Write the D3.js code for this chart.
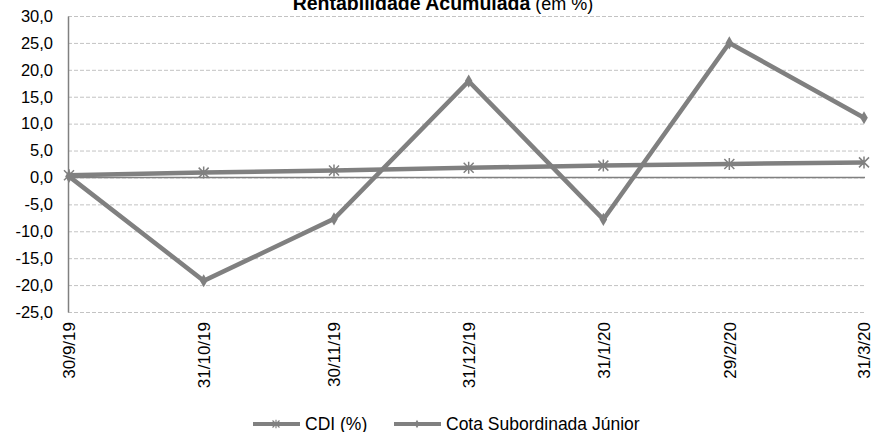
<!DOCTYPE html>
<html>
<head>
<meta charset="utf-8">
<script src="https://cdn.jsdelivr.net/npm/d3@7"></script>
<style>
  body { margin: 0; background: #fff; }
  svg { display: block; }
</style>
</head>
<body>
<div id="chart"></div>
<script>
var dates = ['30/9/19', '31/10/19', '30/11/19', '31/12/19', '31/1/20', '29/2/20', '31/3/20'];
var cdi = [0.4, 0.9, 1.3, 1.8, 2.2, 2.5, 2.8];
var cota = [0.2, -19.2, -7.7, 17.9, -7.8, 25.0, 11.1];
var yTicks = [-25, -20, -15, -10, -5, 0, 5, 10, 15, 20, 25, 30];
var seriesNames = ['CDI (%)', 'Cota Subordinada Júnior'];

var width = 872,
    height = 432;
var plotLeft = 68, plotRight = 865, plotTop = 16, plotBottom = 312;

var lineColor = '#808080',
    gridColor = '#c3c3c3',
    textColor = '#000';
var fontFamily = '"Liberation Sans", Arial, sans-serif';

var parse = d3.timeParse('%d/%m/%y');
var dateVals = dates.map(parse);

var x = d3.scaleTime()
  .domain(d3.extent(dateVals))
  .range([plotLeft + 1, plotRight - 1]);

var y = d3.scaleLinear()
  .domain([yTicks[0], yTicks[yTicks.length - 1]])
  .range([plotBottom, plotTop]);

function fmt(v) {
  return v.toFixed(1).replace('.', ',');
}

var svg = d3.select('#chart')
  .append('svg')
  .attr('width', width)
  .attr('height', height);

// title (partly cut off at the top)
var title = svg.append('text')
  .attr('x', 443)
  .attr('y', 10)
  .attr('text-anchor', 'middle')
  .attr('font-family', fontFamily)
  .attr('font-size', '18px')
  .attr('fill', textColor);
title.append('tspan').attr('font-weight', 'bold').attr('font-size', '19.5px').text('Rentabilidade Acumulada');
title.append('tspan').text(' (em %)');

// gridlines
var grid = svg.append('g')
  .attr('transform', 'translate(' + plotLeft + ',0)')
  .call(d3.axisLeft(y).tickValues(yTicks).tickSize(-(plotRight - plotLeft)).tickFormat(''));
grid.select('.domain').remove();
grid.selectAll('line')
  .attr('stroke', gridColor)
  .attr('stroke-width', 1)
  .attr('stroke-dasharray', '4,2');

// zero line
svg.append('line')
  .attr('x1', plotLeft)
  .attr('x2', plotRight)
  .attr('y1', y(0))
  .attr('y2', y(0))
  .attr('stroke', lineColor)
  .attr('stroke-width', 1.5);

// y axis
var yAxis = svg.append('g')
  .attr('transform', 'translate(' + plotLeft + ',0)')
  .call(d3.axisLeft(y).tickValues(yTicks).tickSize(0).tickPadding(15).tickFormat(fmt));
yAxis.select('.domain').attr('stroke', lineColor).attr('stroke-width', 1.5);
yAxis.selectAll('text')
  .attr('font-family', fontFamily)
  .attr('font-size', '16.5px')
  .attr('fill', textColor);

// x labels, rotated
var xAxis = svg.append('g')
  .attr('transform', 'translate(0,' + plotBottom + ')')
  .call(d3.axisBottom(x).tickValues(dateVals).tickSize(0).tickFormat(function(d, i) { return dates[i]; }));
xAxis.select('.domain').remove();
xAxis.selectAll('text')
  .attr('font-family', fontFamily)
  .attr('font-size', '17px')
  .attr('fill', textColor)
  .attr('text-anchor', 'end')
  .attr('transform', 'rotate(-90)')
  .attr('x', -10)
  .attr('y', 0)
  .attr('dy', '0.35em');

// lines
var line = d3.line()
  .x(function(d, i) { return x(dateVals[i]); })
  .y(function(d) { return y(d); });

function starPath(s) {
  return 'M' + (-s) + ',' + (-s) + 'L' + s + ',' + s +
         'M' + (-s) + ',' + s + 'L' + s + ',' + (-s) +
         'M0,' + (-s * 1.2) + 'L0,' + (s * 1.2);
}
var diamond = d3.symbol().type(d3.symbolDiamond).size(50);

svg.append('path')
  .datum(cdi)
  .attr('d', line)
  .attr('fill', 'none')
  .attr('stroke', lineColor)
  .attr('stroke-width', 4.5)
  .attr('stroke-linejoin', 'round');

svg.selectAll('.cdi-pt')
  .data(cdi)
  .enter().append('path')
  .attr('class', 'cdi-pt')
  .attr('transform', function(d, i) { return 'translate(' + x(dateVals[i]) + ',' + y(d) + ')'; })
  .attr('d', starPath(5))
  .attr('stroke', lineColor)
  .attr('stroke-width', 1.5)
  .attr('fill', 'none');

svg.append('path')
  .datum(cota)
  .attr('d', line)
  .attr('fill', 'none')
  .attr('stroke', lineColor)
  .attr('stroke-width', 4.5)
  .attr('stroke-linejoin', 'miter');

svg.selectAll('.cota-pt')
  .data(cota)
  .enter().append('path')
  .attr('class', 'cota-pt')
  .attr('transform', function(d, i) { return 'translate(' + x(dateVals[i]) + ',' + y(d) + ')'; })
  .attr('d', diamond)
  .attr('fill', lineColor);

// legend
var legendX = [253, 394];
var legend = svg.selectAll('.legend')
  .data(seriesNames)
  .enter().append('g')
  .attr('class', 'legend')
  .attr('transform', function(d, i) { return 'translate(' + legendX[i] + ',424)'; });

legend.append('line')
  .attr('x1', 0)
  .attr('x2', 47)
  .attr('stroke', lineColor)
  .attr('stroke-width', 4);

legend.append('path')
  .attr('transform', 'translate(23,0)')
  .attr('d', function(d, i) { return i === 0 ? starPath(3.5) : d3.symbol().type(d3.symbolDiamond).size(20)(); })
  .attr('stroke', function(d, i) { return i === 0 ? lineColor : 'none'; })
  .attr('stroke-width', 1.2)
  .attr('fill', lineColor);

legend.append('text')
  .attr('x', 52)
  .attr('y', 6)
  .attr('font-family', fontFamily)
  .attr('font-size', '17.5px')
  .attr('fill', textColor)
  .text(function(d) { return d; });
</script>
</body>
</html>
